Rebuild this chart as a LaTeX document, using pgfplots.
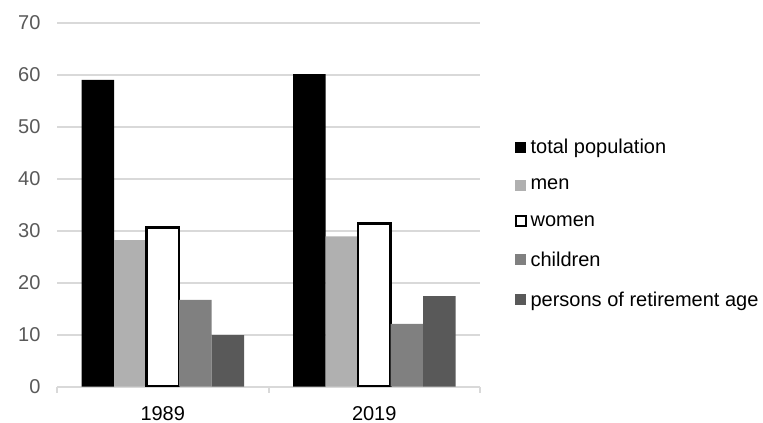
\documentclass[border=0pt]{standalone}
\usepackage{pgfplots}
\pgfplotsset{compat=1.18}
\usepackage{fontspec}
\setmainfont{Liberation Sans}
\definecolor{gridc}{HTML}{D9D9D9}
\definecolor{tickc}{HTML}{595959}
\definecolor{menc}{HTML}{B0B0B0}
\definecolor{chc}{HTML}{808080}
\definecolor{retc}{HTML}{595959}
\begin{document}
\begin{tikzpicture}
\path[use as bounding box] (0,0) rectangle (763bp,423bp);
\begin{axis}[
  at={(57bp,36.3bp)}, anchor=south west,
  scale only axis, width=423bp, height=364bp,
  ybar=0pt, bar width=32.5bp,
  xmin=-0.5, xmax=1.5, ymin=0, ymax=70,
  ytick={0,10,...,70},
  xtick={0,1}, xticklabels={1989,2019},
  major tick length=0pt,
  extra x ticks={-0.5,0.5,1.5}, extra x tick labels={},
  extra x tick style={major tick length=6bp, tick align=outside, tick style={draw=gridc, line width=2bp}},
  axis x line*=bottom, axis y line*=left,
  y axis line style={draw=none},
  x axis line style={draw=gridc, line width=2bp, -},
  ymajorgrids, grid style={draw=gridc, line width=2bp},
  tick label style={font=\fontsize{20bp}{24bp}\selectfont, text=tickc},
  xticklabel style={text=black, yshift=-16bp},
  yticklabel style={xshift=-13bp},
  /pgf/number format/assume math mode=true,
  legend style={draw=none, fill=none, at={(1.082,0.449)}, anchor=west,
    font=\fontsize{20bp}{24bp}\selectfont, row sep=17bp, inner sep=0pt,
    nodes={inner sep=3.5bp}},
  legend cell align=left,
  legend image code/.code={\path[#1] (0bp,-5.5bp) rectangle (11bp,5.5bp);},
]
\addplot[fill=black, draw=none] coordinates {(0,59.0) (1,60.1)};
\addlegendentry{total population}
\addplot[fill=menc, draw=none] coordinates {(0,28.2) (1,28.9)};
\addlegendentry{men}
\addplot[fill=white, draw=black, line width=2.5bp,
  legend image code/.code={\path[fill=white, draw=black, line width=2.2bp] (0.5bp,-5bp) rectangle (10.5bp,5bp);}]
  coordinates {(0,30.6) (1,31.4)};
\addlegendentry{women}
\addplot[fill=chc, draw=none] coordinates {(0,16.7) (1,12.1)};
\addlegendentry{children}
\addplot[fill=retc, draw=none] coordinates {(0,9.9) (1,17.4)};
\addlegendentry{persons of retirement age}
\end{axis}
\end{tikzpicture}
\end{document}
